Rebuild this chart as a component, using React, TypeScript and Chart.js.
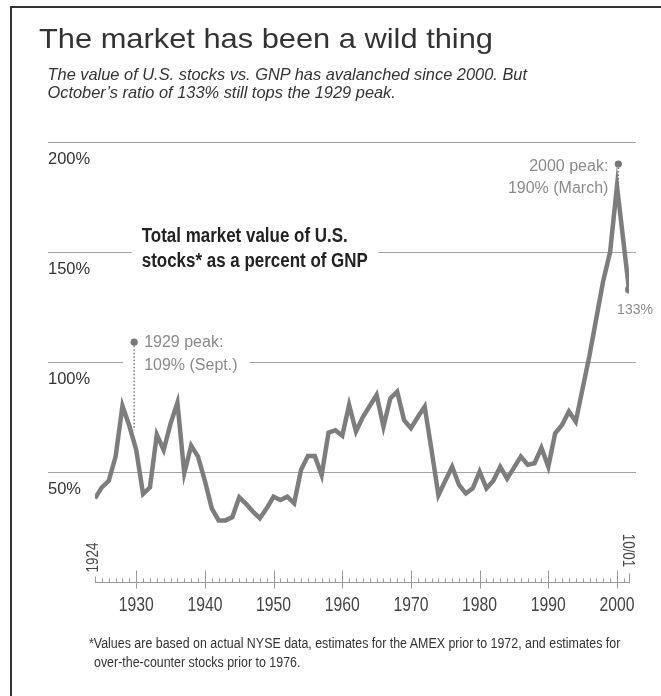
import React, { useEffect, useRef } from 'react';
import { Chart, registerables } from 'chart.js';

Chart.register(...registerables);

// ---- data ----
const years = [
  1924, 1925, 1926, 1927, 1928, 1929, 1930, 1931, 1932, 1933,
  1934, 1935, 1936, 1937, 1938, 1939, 1940, 1941, 1942, 1943,
  1944, 1945, 1946, 1947, 1948, 1949, 1950, 1951, 1952, 1953,
  1954, 1955, 1956, 1957, 1958, 1959, 1960, 1961, 1962, 1963,
  1964, 1965, 1966, 1967, 1968, 1969, 1970, 1971, 1972, 1973,
  1974, 1975, 1976, 1977, 1978, 1979, 1980, 1981, 1982, 1983,
  1984, 1985, 1986, 1987, 1988, 1989, 1990, 1991, 1992, 1993,
  1994, 1995, 1996, 1997, 1998, 1999, 2000,
];
const ratioValues = [
  38, 43, 46, 57, 80, 71, 60, 40, 43, 67,
  60, 72, 81.5, 49.5, 62, 57, 46, 33.5, 28, 28,
  29.5, 38.5, 35.5, 32, 29, 33.5, 38.8, 37.3, 38.8, 35.8,
  51, 57.3, 57.3, 48.6, 67.9, 69, 66.5, 80.5, 68.4, 75,
  80, 85, 70.6, 83.5, 86.5, 73.6, 69.9, 75, 79.7, 60,
  39.5, 46, 52.4, 44.1, 40.3, 42.6, 50.2, 42.6, 46, 52.4,
  47, 52, 57, 53.3, 54, 61, 52.4, 67.6, 71.4, 77.5,
  72.9, 88, 103, 120, 137, 150, 180,
];
const latestDate = 2001.75; // October 2001
const latestValue = 133;
const latestLabel = '133%';

const peakDates = [1929.7, 2000.2];
const peakValues = [109, 190];
const peakLineEnds = [69, 179];
const peakLabels = [
  ['1929 peak:', '109% (Sept.)'],
  ['2000 peak:', '190% (March)'],
];

const decadeTicks = [1930, 1940, 1950, 1960, 1970, 1980, 1990, 2000];
const gridValues = [50, 100, 150, 200];
const firstYearLabel = '1924';
const lastDateLabel = '10/01';
const seriesLabel = ['Total market value of U.S.', 'stocks* as a percent of GNP'];
const titleText = 'The market has been a wild thing';
const subtitleLines = [
  'The value of U.S. stocks vs. GNP has avalanched since 2000. But',
  'October’s ratio of 133% still tops the 1929 peak.',
];
const footnoteLines = [
  '*Values are based on actual NYSE data, estimates for the AMEX prior to 1972, and estimates for',
  'over-the-counter stocks prior to 1976.',
];

const REG = '"Liberation Sans", Arial, Helvetica, sans-serif';
const LINE_GRAY = '#7d7d7d';

// draw text squeezed horizontally (the original uses a condensed face)
function drawSqueezed(ctx: any, text: string, x: number, y: number, sx: number, align: string) {
  ctx.save();
  ctx.translate(x, y);
  ctx.scale(sx, 1);
  ctx.textAlign = align;
  ctx.fillText(text, 0, 0);
  ctx.restore();
}

const decorPlugin = {
  id: 'decor',
  beforeDatasetsDraw(chart: any) {
    const { ctx, chartArea } = chart;
    const xs = chart.scales.x;
    const ys = chart.scales.y;
    const X = (v: number) => xs.getPixelForValue(v);
    const Y = (v: number) => ys.getPixelForValue(v);
    ctx.save();

    // horizontal gridlines (extend under the axis labels)
    ctx.strokeStyle = '#a3a3a3';
    ctx.lineWidth = 1;
    const gridLeft = 48;
    const gridRight = chartArea.right + 7;
    for (const v of gridValues) {
      const py = Math.round(Y(v)) + 0.5;
      ctx.beginPath();
      ctx.moveTo(gridLeft, py);
      ctx.lineTo(gridRight, py);
      ctx.stroke();
    }

    // x axis baseline and tick marks
    const by = Math.round(Y(0)) + 0.5;
    ctx.strokeStyle = '#9a9a9a';
    ctx.beginPath();
    ctx.moveTo(X(years[0]), by);
    ctx.lineTo(X(latestDate), by);
    ctx.stroke();
    for (let yr = years[0]; yr <= 2001; yr++) {
      const px = Math.round(X(yr)) + 0.5;
      let top = by - 4;
      let bottom = by;
      if (yr % 10 === 0) { top = by - 12; bottom = by + 6; }
      if (yr === years[0]) { top = by - 6; }
      ctx.beginPath();
      ctx.moveTo(px, top);
      ctx.lineTo(px, bottom);
      ctx.stroke();
    }
    {
      const px = Math.round(X(latestDate)) + 0.5;
      ctx.beginPath();
      ctx.moveTo(px, by - 9);
      ctx.lineTo(px, by + 1);
      ctx.stroke();
    }

    // decade labels (condensed)
    ctx.fillStyle = '#444';
    ctx.font = `21px ${REG}`;
    ctx.textBaseline = 'alphabetic';
    const kx = 35 / ctx.measureText('1930').width;
    for (const t of decadeTicks) {
      drawSqueezed(ctx, String(t), X(t), by + 28, kx, 'center');
    }

    // rotated end labels
    ctx.font = `17px ${REG}`;
    ctx.textBaseline = 'middle';
    const kr = 30 / ctx.measureText(firstYearLabel).width;
    ctx.save();
    ctx.translate(X(years[0]) - 2, by - 25);
    ctx.rotate(-Math.PI / 2);
    drawSqueezed(ctx, firstYearLabel, 0, 0, kr, 'center');
    ctx.restore();
    ctx.save();
    ctx.translate(X(latestDate) - 1.5, by - 32);
    ctx.rotate(Math.PI / 2);
    drawSqueezed(ctx, lastDateLabel, 0, 0, kr, 'center');
    ctx.restore();

    ctx.textBaseline = 'alphabetic';

    // series label with a gap in the 150% gridline
    {
      ctx.font = `bold 20px ${REG}`;
      const ks = 206 / ctx.measureText(seriesLabel[0]).width;
      const lx = X(1930.8);
      const gy = Y(150);
      const w = Math.max(...seriesLabel.map((s) => ctx.measureText(s).width)) * ks;
      ctx.fillStyle = '#fff';
      ctx.fillRect(lx - 10, gy - 3, w + 21, 6);
      ctx.fillStyle = '#222';
      drawSqueezed(ctx, seriesLabel[0], lx, gy - 10, ks, 'left');
      drawSqueezed(ctx, seriesLabel[1], lx, gy + 15, ks, 'left');
    }

    // 1929 peak label
    {
      ctx.font = `16px ${REG}`;
      const dx = X(peakDates[0]);
      const dy = Y(peakValues[0]);
      const w = Math.max(...peakLabels[0].map((s) => ctx.measureText(s).width));
      const gy = Y(100);
      ctx.fillStyle = '#fff';
      ctx.fillRect(dx - 11, gy - 3, w + 33, 6);
      ctx.fillStyle = '#8a8a8a';
      ctx.textAlign = 'left';
      ctx.fillText(peakLabels[0][0], dx + 10, dy + 5);
      ctx.fillText(peakLabels[0][1], dx + 10, dy + 27.5);
    }

    // 2000 peak label
    {
      ctx.font = `16px ${REG}`;
      const dx = X(peakDates[1]);
      const dy = Y(peakValues[1]);
      ctx.fillStyle = '#8a8a8a';
      ctx.textAlign = 'right';
      ctx.fillText(peakLabels[1][0], dx - 10, dy + 7);
      ctx.fillText(peakLabels[1][1], dx - 10, dy + 28.5);
    }

    // latest value label
    {
      ctx.font = `14px ${REG}`;
      ctx.fillStyle = '#8a8a8a';
      ctx.textAlign = 'center';
      ctx.fillText(latestLabel, X(latestDate) + 6, Y(latestValue) + 25);
    }

    ctx.restore();
  },
};

function measureWidth(text: string, font: string) {
  const c = document.createElement('canvas').getContext('2d') as CanvasRenderingContext2D;
  c.font = font;
  return c.measureText(text).width;
}

export default function App() {
  const canvasRef = useRef<HTMLCanvasElement>(null);

  useEffect(() => {
    const seriesPoints = years.map((yr, i) => ({ x: yr, y: ratioValues[i] }));
    seriesPoints.push({ x: latestDate, y: latestValue });
    const lastIndex = seriesPoints.length - 1;

    const chart = new Chart(canvasRef.current as HTMLCanvasElement, {
      type: 'line',
      data: {
        datasets: [
          {
            data: seriesPoints,
            borderColor: LINE_GRAY,
            borderWidth: 4.5,
            backgroundColor: LINE_GRAY,
            pointRadius: (c: any) => (c.dataIndex === lastIndex ? 4 : 0),
            pointBackgroundColor: LINE_GRAY,
            pointBorderWidth: 0,
            tension: 0,
            fill: false,
          },
          {
            data: peakDates.map((d, i) => ({ x: d, y: peakValues[i] })),
            showLine: false,
            pointRadius: 3.6,
            pointBackgroundColor: '#777',
            pointBorderWidth: 0,
            borderColor: '#777',
          },
          ...peakDates.map((d, i) => ({
            data: [
              { x: d, y: peakValues[i] },
              { x: d, y: peakLineEnds[i] },
            ],
            borderColor: '#777',
            borderWidth: 1.5,
            borderDash: [1.5, 2],
            pointRadius: 0,
            fill: false,
          })),
        ],
      },
      options: {
        animation: false,
        responsive: true,
        maintainAspectRatio: false,
        events: [],
        layout: { padding: { left: 48, top: 142, right: 32, bottom: 114 } },
        plugins: {
          legend: { display: false },
          tooltip: { enabled: false },
          title: { display: false },
        },
        scales: {
          x: {
            type: 'linear',
            min: years[0],
            max: latestDate,
            afterBuildTicks: (axis: any) => {
              axis.ticks = decadeTicks.map((v) => ({ value: v }));
            },
            ticks: { display: false },
            grid: { display: false, drawTicks: false },
            border: { display: false },
          },
          y: {
            type: 'linear',
            min: 0,
            max: 200,
            afterFit: (scale: any) => {
              scale.width = 47;
            },
            afterBuildTicks: (axis: any) => {
              axis.ticks = gridValues.map((v) => ({ value: v }));
            },
            ticks: {
              crossAlign: 'far',
              labelOffset: 17,
              color: '#333',
              font: { family: REG, size: 16.5 },
              callback: (v: any) => `${v}%`,
            },
            grid: { display: false, drawTicks: false },
            border: { display: false },
          },
        },
      },
      plugins: [decorPlugin],
    } as any);

    return () => chart.destroy();
  }, []);

  const footFont = `14px ${REG}`;
  const kFoot = 532 / measureWidth(footnoteLines[0], footFont);
  const kTitle = 454 / measureWidth(titleText, `28px ${REG}`);

  return (
    <div
      style={{
        position: 'absolute',
        left: 0,
        top: 0,
        width: 661,
        height: 696,
        background: '#fff',
        overflow: 'hidden',
      }}
    >
      <div
        style={{
          position: 'absolute',
          left: 10,
          top: 6,
          right: -4,
          bottom: -4,
          borderTop: '2px solid #333',
          borderLeft: '2px solid #333',
        }}
      />
      <div style={{ position: 'absolute', left: 0, top: 0, width: 661, height: 696 }}>
        <canvas ref={canvasRef} />
      </div>
      <div
        style={{
          position: 'absolute',
          left: 39,
          top: 24.6,
          fontFamily: REG,
          fontSize: 28,
          lineHeight: '28px',
          color: '#333',
          whiteSpace: 'nowrap',
          transform: `scaleX(${kTitle})`,
          transformOrigin: 'left center',
        }}
      >
        {titleText}
      </div>
      <div
        style={{
          position: 'absolute',
          left: 47.5,
          top: 65.2,
          fontFamily: REG,
          fontStyle: 'italic',
          fontSize: 16.4,
          lineHeight: '18.3px',
          color: '#333',
          whiteSpace: 'nowrap',
        }}
      >
        {subtitleLines[0]}
        <br />
        {subtitleLines[1]}
      </div>
      {footnoteLines.map((line, i) => (
        <div
          key={i}
          style={{
            position: 'absolute',
            left: i === 0 ? 88.7 : 93.7,
            top: 633.8 + i * 18.7,
            fontFamily: REG,
            fontSize: 14,
            lineHeight: '18.7px',
            color: '#333',
            whiteSpace: 'nowrap',
            transform: `scaleX(${kFoot})`,
            transformOrigin: 'left center',
          }}
        >
          {line}
        </div>
      ))}
    </div>
  );
}
